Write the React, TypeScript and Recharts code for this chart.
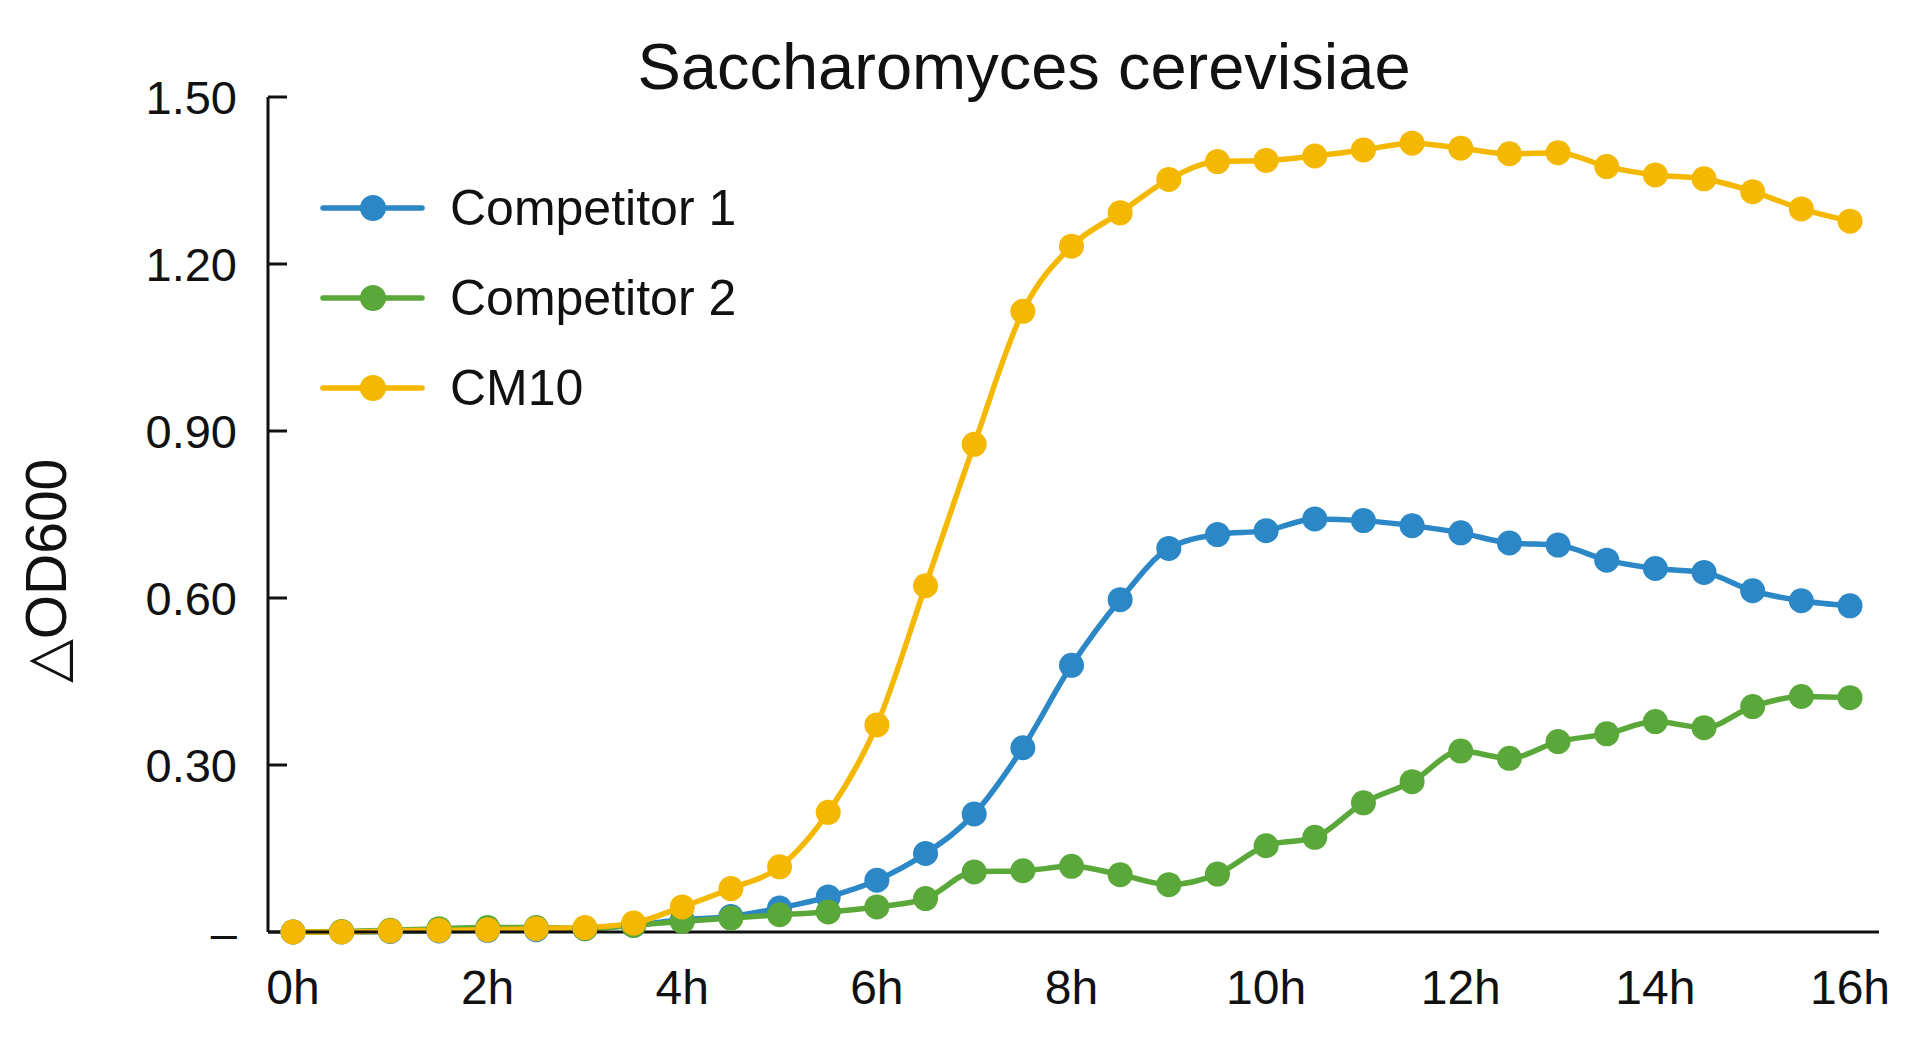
import { Label, Line, LineChart, XAxis, YAxis } from "recharts";

const hours = [
  0, 0.5, 1, 1.5, 2, 2.5, 3, 3.5, 4, 4.5, 5, 5.5, 6, 6.5, 7, 7.5, 8, 8.5, 9, 9.5, 10, 10.5, 11, 11.5, 12,
  12.5, 13, 13.5, 14, 14.5, 15, 15.5, 16,
];

const competitor1 = [
  0, 0, 0.001, 0.002, 0.003, 0.004, 0.006, 0.012, 0.022, 0.028, 0.043, 0.063, 0.093, 0.141, 0.212, 0.331,
  0.479, 0.597, 0.689, 0.714, 0.721, 0.742, 0.739, 0.73, 0.717, 0.699, 0.695, 0.668, 0.653, 0.646, 0.613,
  0.595, 0.586,
];

const competitor2 = [
  0, 0.001, 0.003, 0.006, 0.008, 0.008, 0.006, 0.012, 0.019, 0.025, 0.031, 0.036, 0.045, 0.06, 0.108, 0.11,
  0.118, 0.103, 0.085, 0.104, 0.155, 0.17, 0.232, 0.27, 0.325, 0.312, 0.342, 0.356, 0.378, 0.367, 0.405,
  0.423, 0.421,
];

const cm10 = [
  0, 0, 0.002, 0.003, 0.004, 0.006, 0.008, 0.016, 0.045, 0.078, 0.117, 0.215, 0.372, 0.622, 0.876, 1.115,
  1.232, 1.292, 1.352, 1.384, 1.386, 1.394, 1.405, 1.417, 1.408, 1.398, 1.4, 1.375, 1.36, 1.353, 1.33,
  1.299, 1.277,
];

const xTicks = [0, 2, 4, 6, 8, 10, 12, 14, 16];
const yTicks = [0, 0.3, 0.6, 0.9, 1.2, 1.5];

const series = [
  { key: "c1", name: "Competitor 1", color: "#2b87c6" },
  { key: "c2", name: "Competitor 2", color: "#5ba83a" },
  { key: "cm10", name: "CM10", color: "#f5b800" },
];

const data = hours.map((t, i) => ({
  t,
  c1: competitor1[i],
  c2: competitor2[i],
  cm10: cm10[i],
}));

const FONT = "'Liberation Sans', Arial, Helvetica, sans-serif";

if (typeof document !== "undefined") {
  document.body.style.margin = "0";
}

// legend drawn by hand: Recharts' own Legend would push the plot area right
function LegendBox() {
  return (
    <div style={{ position: "absolute", left: 320, top: 163, fontFamily: FONT, zIndex: 2 }}>
      {series.map((s) => (
        <div key={s.key} style={{ display: "flex", alignItems: "center", height: 90 }}>
          <svg width={110} height={30} style={{ display: "block" }}>
            <line x1={3} y1={15} x2={102} y2={15} stroke={s.color} strokeWidth={5.5} strokeLinecap="round" />
            <circle cx={53} cy={15} r={13} fill={s.color} />
          </svg>
          <span style={{ marginLeft: 20, fontSize: 50, color: "#111", lineHeight: 1 }}>{s.name}</span>
        </div>
      ))}
    </div>
  );
}

export default function App() {
  return (
    <div style={{ position: "relative", width: 1920, height: 1040, background: "#fff" }}>
      <div
        style={{
          position: "absolute",
          left: 1024,
          top: 34,
          transform: "translateX(-50%)",
          fontFamily: FONT,
          fontSize: 65,
          lineHeight: 1,
          whiteSpace: "nowrap",
          color: "#111",
          zIndex: 2,
        }}
      >
        Saccharomyces cerevisiae
      </div>
      <LegendBox />
      <LineChart width={1920} height={1040} data={data} margin={{ top: 97, right: 41, bottom: 0, left: 0 }}>
        <XAxis
          dataKey="t"
          type="number"
          domain={[0, 16]}
          ticks={xTicks}
          tickFormatter={(v) => `${v}h`}
          padding={{ left: 25, right: 29 }}
          axisLine={{ stroke: "#111", strokeWidth: 3 }}
          tickLine={false}
          tickSize={0}
          tickMargin={38}
          height={108}
          tick={{ fontSize: 48, fill: "#111", fontFamily: FONT }}
        />
        <YAxis
          type="number"
          domain={[0, 1.5]}
          ticks={yTicks}
          tickFormatter={(v) => (v === 0 ? "–" : Number(v).toFixed(2))}
          width={268}
          axisLine={{ stroke: "#111", strokeWidth: 3 }}
          tickLine={{ stroke: "#111", strokeWidth: 3 }}
          tickSize={-19}
          tickMargin={50}
          tick={{ fontSize: 47, fill: "#111", fontFamily: FONT }}
        >
          <Label
            content={() => (
              <text
                x={66}
                y={571}
                transform="rotate(-90 66 571)"
                textAnchor="middle"
                fontSize={57}
                fill="#111"
                fontFamily={FONT}
              >
                △OD600
              </text>
            )}
          />
        </YAxis>
        {series.map((s) => (
          <Line
            key={s.key}
            dataKey={s.key}
            name={s.name}
            type="monotone"
            stroke={s.color}
            strokeWidth={5.5}
            dot={{ r: 12.5, fill: s.color, stroke: s.color, strokeWidth: 0 }}
            activeDot={false}
            isAnimationActive={false}
          />
        ))}
      </LineChart>
    </div>
  );
}
